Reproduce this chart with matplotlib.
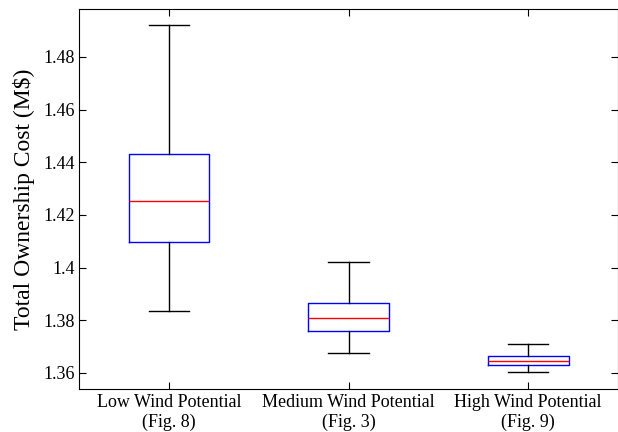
import matplotlib
matplotlib.use("Agg")
import matplotlib.pyplot as plt
from matplotlib.ticker import FuncFormatter

plt.rcParams['font.family'] = ['Liberation Serif', 'DejaVu Serif']

labels = ["Low Wind Potential\n(Fig. 8)", "Medium Wind Potential\n(Fig. 3)", "High Wind Potential\n(Fig. 9)"]
whislo = [1.3834, 1.3677, 1.3605]
q1 = [1.4096, 1.3761, 1.3629]
med = [1.4254, 1.3809, 1.3646]
q3 = [1.4433, 1.3867, 1.3663]
whishi = [1.4922, 1.4020, 1.3709]
yticks = [1.36, 1.38, 1.40, 1.42, 1.44, 1.46, 1.48]

stats = []
for i in range(3):
    stats.append(dict(whislo=whislo[i], q1=q1[i], med=med[i], q3=q3[i], whishi=whishi[i], fliers=[]))

fig = plt.figure(figsize=(6.18, 4.32), dpi=100)
ax = fig.add_axes([0.128, 0.0995, 0.872, 0.8795])

ax.bxp(stats, positions=[1, 2, 3], widths=0.45, showfliers=False,
       boxprops=dict(color='blue', linewidth=1.0),
       medianprops=dict(color='red', linewidth=1.0),
       whiskerprops=dict(color='black', linewidth=1.0, linestyle='-'),
       capprops=dict(color='black', linewidth=1.0))

ax.set_xlim(0.5, 3.5)
ax.set_ylim(1.3539, 1.4982)
ax.set_yticks(yticks)
ax.yaxis.set_major_formatter(FuncFormatter(lambda v, p: '%g' % round(v, 2)))
ax.set_xticks([1, 2, 3])
ax.set_xticklabels(labels)
ax.tick_params(direction='in', top=True, right=True, labelsize=13, length=5)
ax.tick_params(axis='y', pad=3)
ax.set_ylabel("Total Ownership Cost (M$)", fontsize=17)
ax.yaxis.set_label_coords(-0.082, 0.5)

fig.savefig("out.png", dpi=100)
